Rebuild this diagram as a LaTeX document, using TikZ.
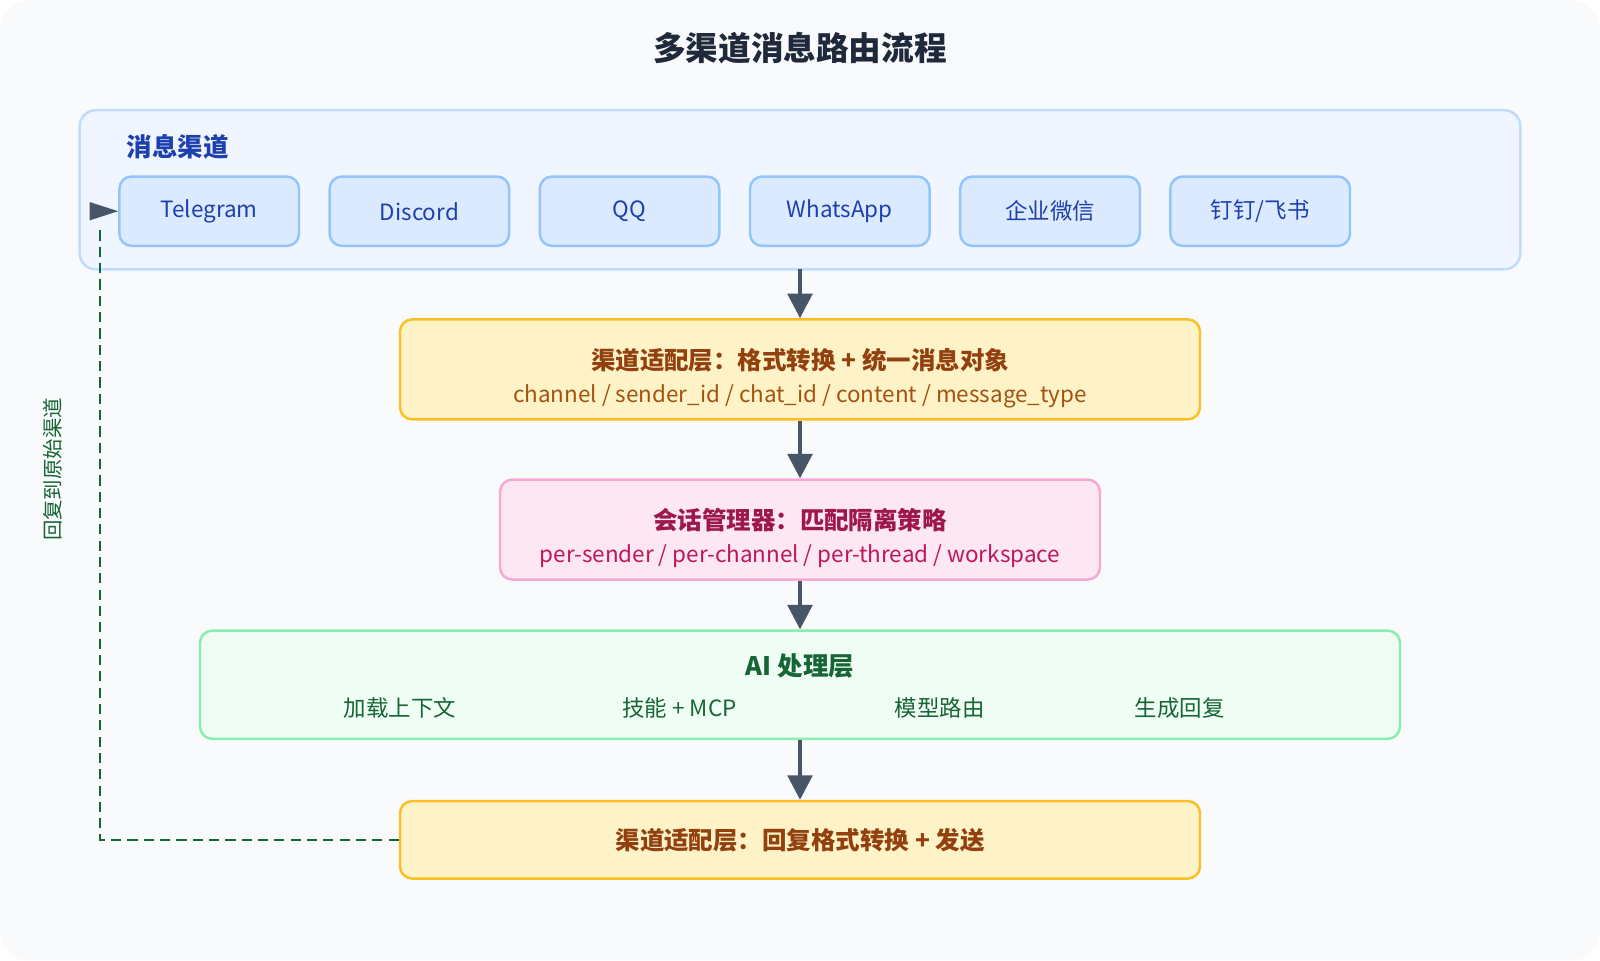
\documentclass[tikz,border=0pt]{standalone}
\usepackage{fontspec}
\setmainfont{Noto Sans CJK SC}
\usetikzlibrary{arrows.meta}
\definecolor{bg}{HTML}{F8FAFC}
\definecolor{chf}{HTML}{EFF6FF}\definecolor{chb}{HTML}{BFDBFE}
\definecolor{nf}{HTML}{DBEAFE}\definecolor{nb}{HTML}{93C5FD}\definecolor{nt}{HTML}{1E40AF}
\definecolor{yf}{HTML}{FEF3C7}\definecolor{yb}{HTML}{FBBF24}\definecolor{yt}{HTML}{92400E}
\definecolor{pf}{HTML}{FCE7F3}\definecolor{pb}{HTML}{F9A8D4}\definecolor{pt}{HTML}{9D174D}\definecolor{ps}{HTML}{BE185D}
\definecolor{gf}{HTML}{F0FDF4}\definecolor{gb}{HTML}{86EFAC}\definecolor{gt}{HTML}{166534}
\definecolor{ar}{HTML}{475569}\definecolor{tt}{HTML}{1E293B}
\tikzset{
 box/.style={draw, line width=1.2pt, rounded corners=6pt, inner sep=0pt},
 ch/.style={box, fill=nf, draw=nb, text=nt, minimum width=88pt, minimum height=34pt, font=\fontsize{11}{13}\selectfont},
 flow/.style={draw=ar, line width=2pt, -{Triangle[length=12pt,width=12pt]}},
 ret/.style={draw=gt, line width=1.2pt, dash pattern=on 5pt off 3pt}
}
\begin{document}
\begin{tikzpicture}[x=0.5pt,y=-0.5pt]
\useasboundingbox (0,0) rectangle (1568,941);
\fill[bg, rounded corners=14pt] (0,0) rectangle (1568,941);
\node[text=tt, font=\fontsize{16}{18}\selectfont\bfseries] (title) at (784,47) {多渠道消息路由流程};
\draw[chf, fill=chf, draw=chb, line width=1.2pt, rounded corners=8pt] (78,108) rectangle (1490,264);
\node[text=nt, font=\fontsize{12.5}{14}\selectfont\bfseries, anchor=west] (chl) at (117,144) {消息渠道};
\node[ch] (tg) at (205,207) {Telegram};
\node[ch] (dc) at (411,207) {Discord};
\node[ch] (qq) at (617,207) {QQ};
\node[ch] (wa) at (823,207) {WhatsApp};
\node[ch] (wx) at (1029,207) {企业微信};
\node[ch] (dd) at (1235,207) {钉钉/飞书};
\coordinate (chbot) at (784,264);
\node[box, fill=yf, draw=yb, minimum width=392pt, minimum height=49pt] (ad) at (784,362) {};
\node[text=yt, font=\fontsize{12}{14}\selectfont\bfseries] at (784,353) {渠道适配层：格式转换 + 统一消息对象};
\node[text=yt!85!yb, font=\fontsize{11}{13}\selectfont] at (784,388) {channel / sender\_id / chat\_id / content / message\_type};
\node[box, fill=pf, draw=pb, minimum width=294pt, minimum height=49pt] (sm) at (784,519) {};
\node[text=pt, font=\fontsize{12}{14}\selectfont\bfseries] at (784,510) {会话管理器：匹配隔离策略};
\node[text=ps, font=\fontsize{11}{13}\selectfont] at (784,545) {per-sender / per-channel / per-thread / workspace};
\node[box, fill=gf, draw=gb, minimum width=588pt, minimum height=53pt] (ai) at (784,671) {};
\node[text=gt, font=\fontsize{12.5}{14}\selectfont\bfseries] at (784,653) {AI 处理层};
\foreach \x/\t in {392/加载上下文, 666/技能 + MCP, 921/模型路由, 1156/生成回复}
  \node[text=gt, font=\fontsize{11}{13}\selectfont] at (\x,694) {\t};
\node[box, fill=yf, draw=yb, minimum width=392pt, minimum height=38pt, text=yt, font=\fontsize{12}{14}\selectfont\bfseries] (out) at (784,823) {渠道适配层：回复格式转换 + 发送};
\draw[flow] (chbot) -- (ad.north);
\draw[flow] (ad.south) -- (sm.north);
\draw[flow] (sm.south) -- (ai.north);
\draw[flow] (ai.south) -- (out.north);
\coordinate (c1) at (98,823);
\coordinate (c2) at (98,222);
\draw[ret] (out.west) -- (c1) -- (c2);
\fill[ar] (tg.west) -- ++(-28,-9) -- ++(0,18) -- cycle;
\node[text=gt, rotate=90, font=\fontsize{10}{12}\selectfont] (rl) at (52,460) {回复到原始渠道};
\end{tikzpicture}
\end{document}
